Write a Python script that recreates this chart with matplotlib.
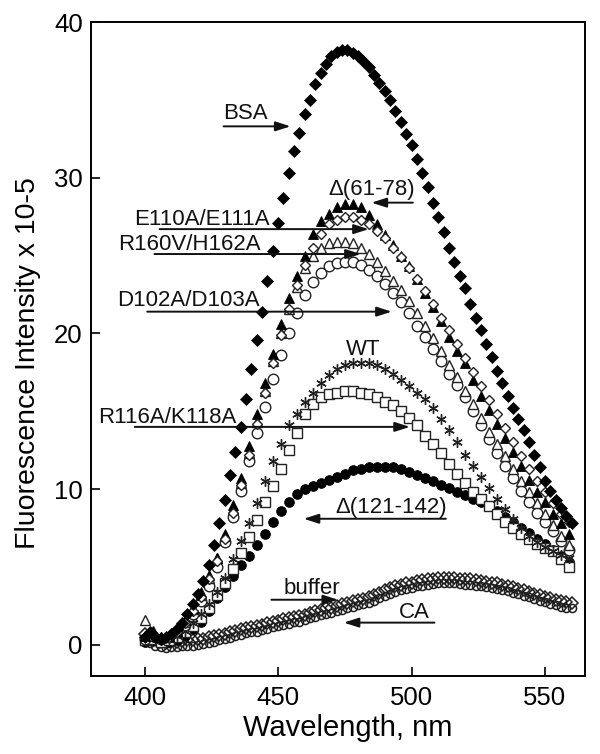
import numpy as np
import matplotlib
matplotlib.use("Agg")
import matplotlib.pyplot as plt

plt.rcParams['font.family'] = ['Liberation Sans', 'DejaVu Sans']

# wavelength grids (nm)
wl_bsa = np.arange(400, 561, 2)
wl_mut = np.arange(400, 560, 3)
wl_band = np.arange(400, 561, 2)

bsa = [0.5, 0.8, 0.5, 0.4, 0.5, 0.7, 1.0, 1.4, 2.0, 2.6,
       3.3, 4.1, 5.1, 6.4, 7.8, 9.3, 10.9, 12.4, 14.0, 15.8,
       17.7, 19.6, 21.4, 23.4, 25.3, 27.1, 28.7, 30.3, 31.7, 32.9,
       34.1, 35.0, 36.0, 36.7, 37.3, 37.8, 38.1, 38.2, 38.2, 38.0,
       37.8, 37.5, 37.1, 36.6, 36.1, 35.6, 35.0, 34.3, 33.6, 32.8,
       32.1, 31.2, 30.3, 29.4, 28.4, 27.5, 26.5, 25.5, 24.6, 23.7,
       22.9, 21.9, 21.0, 20.2, 19.3, 18.5, 17.6, 16.8, 16.0, 15.2,
       14.5, 13.8, 13.0, 12.2, 11.4, 10.5, 9.9, 9.3, 8.8, 8.3,
       7.8]

d6178 = [0.6, 0.8, 0.5, 0.6, 0.9, 1.6, 2.4, 3.4, 4.5, 5.6,
         7.1, 9.0, 10.7, 12.8, 14.8, 16.8, 18.7, 20.6, 22.3, 23.7,
         25.0, 26.4, 27.2, 27.7, 28.1, 28.3, 28.3, 28.1, 27.6, 27.0,
         26.3, 25.7, 25.0, 24.3, 23.5, 22.6, 21.7, 20.8, 19.8, 18.9,
         18.1, 17.0, 16.0, 15.1, 14.2, 13.3, 12.4, 11.5, 10.6, 9.8,
         9.2, 8.4, 7.8, 7.1]

e110 = [0.5, 0.6, 0.4, 0.5, 0.8, 1.4, 2.2, 3.1, 4.2, 5.4,
        6.8, 8.5, 10.3, 12.2, 14.2, 16.2, 18.1, 19.9, 21.6, 23.1,
        24.4, 25.5, 26.4, 27.0, 27.3, 27.5, 27.5, 27.3, 27.0, 26.6,
        26.1, 25.5, 24.9, 24.2, 23.5, 22.7, 21.9, 21.0, 20.2, 19.3,
        18.4, 17.5, 16.6, 15.7, 14.8, 13.9, 13.0, 12.1, 11.3, 10.5,
        9.8, 9.1, 8.4, 7.9]

r160 = [1.6, 0.9, 0.5, 0.6, 0.9, 1.5, 2.3, 3.2, 4.3, 5.6,
        7.0, 8.7, 10.4, 12.3, 14.3, 16.3, 18.2, 20.0, 21.6, 23.0,
        24.2, 25.0, 25.5, 25.8, 25.9, 25.9, 25.8, 25.5, 25.1, 24.6,
        24.0, 23.4, 22.8, 22.1, 21.3, 20.5, 19.7, 18.9, 18.0, 17.2,
        16.3, 15.5, 14.6, 13.7, 12.9, 12.1, 11.3, 10.5, 9.8, 9.1,
        8.4, 7.7, 7.0, 6.4]

d102 = [0.4, 0.6, 0.4, 0.5, 0.8, 1.3, 2.0, 2.8, 3.8, 5.0,
        6.6, 8.2, 9.9, 11.8, 13.6, 15.3, 17.1, 18.6, 20.0, 21.3,
        22.5, 23.3, 23.9, 24.3, 24.5, 24.6, 24.6, 24.4, 24.1, 23.7,
        23.2, 22.6, 22.0, 21.3, 20.5, 19.8, 19.0, 18.2, 17.4, 16.7,
        15.9, 15.0, 14.1, 13.2, 12.3, 11.5, 10.7, 9.9, 9.2, 8.5,
        7.9, 7.3, 6.7, 6.1]

wt = [0.4, 0.5, 0.3, 0.4, 0.6, 0.9, 1.4, 2.0, 2.6, 3.4,
      4.3, 5.5, 6.7, 7.8, 9.1, 10.5, 11.8, 12.9, 14.1, 14.8,
      15.6, 16.2, 16.8, 17.3, 17.7, 18.0, 18.1, 18.1, 18.1, 18.0,
      17.7, 17.4, 17.0, 16.6, 16.2, 15.8, 15.2, 14.5, 13.8, 13.0,
      12.2, 11.5, 10.8, 10.1, 9.4, 8.7, 8.1, 7.5, 7.0, 6.6,
      6.3, 6.0, 5.8, 5.6]

r116 = [0.3, 0.4, 0.2, 0.3, 0.5, 0.8, 1.2, 1.7, 2.4, 3.2,
        4.0, 4.9, 5.9, 6.9, 8.0, 9.2, 10.2, 11.3, 12.5, 13.6,
        14.8, 15.5, 15.9, 16.1, 16.2, 16.3, 16.3, 16.2, 16.1, 15.9,
        15.6, 15.4, 15.0, 14.6, 14.1, 13.4, 12.9, 12.3, 11.6, 11.0,
        10.4, 9.8, 9.4, 8.9, 8.4, 7.9, 7.5, 7.1, 6.8, 6.5,
        6.2, 6.0, 5.5, 5.0]

d121 = [0.2, 0.3, 0.2, 0.2, 0.3, 0.6, 1.0, 1.5, 2.2, 3.0,
        3.7, 4.4, 5.1, 5.7, 6.4, 7.1, 7.9, 8.6, 9.2, 9.7,
        10.0, 10.2, 10.4, 10.6, 10.8, 11.0, 11.2, 11.3, 11.4, 11.4,
        11.4, 11.4, 11.3, 11.1, 10.9, 10.7, 10.5, 10.3, 10.1, 9.8,
        9.6, 9.4, 9.2, 8.9, 8.6, 8.2, 7.9, 7.5, 7.2, 6.8,
        6.5, 6.1, 5.7, 5.3]

buffer = [0.7, 0.5, 0.3, 0.2, 0.15, 0.2, 0.2, 0.25, 0.3, 0.3,
          0.35, 0.4, 0.5, 0.55, 0.65, 0.7, 0.8, 0.9, 1.0, 1.1,
          1.15, 1.2, 1.3, 1.4, 1.5, 1.55, 1.65, 1.7, 1.8, 1.85,
          1.95, 2.05, 2.15, 2.25, 2.35, 2.4, 2.5, 2.6, 2.7, 2.8,
          2.9, 2.95, 3.05, 3.2, 3.35, 3.5, 3.65, 3.75, 3.85, 3.95,
          4.0, 4.1, 4.15, 4.2, 4.25, 4.3, 4.3, 4.3, 4.3, 4.25,
          4.2, 4.2, 4.15, 4.1, 4.05, 4.0, 3.95, 3.85, 3.8, 3.7,
          3.6, 3.5, 3.4, 3.3, 3.2, 3.1, 3.0, 2.9, 2.8, 2.75,
          2.7]

ca = [0.35, 0.15, -0.05, -0.15, -0.2, -0.15, -0.15, -0.1, -0.05, -0.05,
      0.0, 0.05, 0.15, 0.2, 0.3, 0.35, 0.45, 0.55, 0.65, 0.75,
      0.8, 0.85, 0.95, 1.05, 1.15, 1.2, 1.3, 1.35, 1.45, 1.5,
      1.6, 1.7, 1.8, 1.9, 2.0, 2.05, 2.15, 2.25, 2.35, 2.45,
      2.55, 2.6, 2.7, 2.85, 3.0, 3.15, 3.3, 3.4, 3.5, 3.6,
      3.65, 3.75, 3.8, 3.85, 3.9, 3.95, 3.95, 3.95, 3.95, 3.9,
      3.85, 3.85, 3.8, 3.75, 3.7, 3.65, 3.6, 3.5, 3.45, 3.35,
      3.25, 3.15, 3.05, 2.95, 2.85, 2.75, 2.65, 2.55, 2.45, 2.4,
      2.35]

xticks = [400, 450, 500, 550]
yticks = [0, 10, 20, 30, 40]

# annotations: label, text (x, y), arrow tail, arrow tip
labels = [
    ("BSA", (437.9, 33.8), (429.6, 33.3), (454.7, 33.3)),
    ("Δ(61-78)", (484.9, 28.9), (500.5, 28.4), (485.0, 28.4)),
    ("E110A/E111A", (421.6, 26.95), (405.6, 26.7), (484.0, 26.7)),
    ("R160V/H162A", (416.7, 25.35), (403.7, 25.1), (481.0, 25.1)),
    ("D102A/D103A", (416.3, 21.75), (401.0, 21.4), (492.6, 21.4)),
    ("WT", (481.9, 18.6), None, None),
    ("R116A/K118A", (408.4, 14.25), (396.3, 14.0), (499.4, 14.0)),
    ("Δ(121-142)", (492.4, 8.45), (512.9, 8.1), (459.6, 8.1)),
    ("buffer", (462.8, 3.25), (447.5, 2.9), (472.5, 2.9)),
    ("CA", (500.9, 1.75), (508.6, 1.43), (474.6, 1.43)),
]

fig = plt.figure(figsize=(6.0, 7.54), dpi=100)
ax = fig.add_axes([0.152, 0.1034, 0.823, 0.8674])

band_c = '#1e1e1e'
ax.plot(wl_band, buffer, ls='none', marker='D', ms=5.8, mfc='none', mec=band_c, mew=1.1, zorder=2)
ax.plot(wl_band, ca, ls='none', marker='o', ms=5.8, mfc='none', mec=band_c, mew=1.1, zorder=2)

ax.plot(wl_mut, d121, ls='none', marker='o', ms=7, mfc='k', mec='k', mew=0.6, zorder=3)
ax.plot(wl_mut, r116, ls='none', marker='s', ms=7, mfc='white', mec='#222', mew=1.0, zorder=3)
ax.plot(wl_mut, wt, ls='none', marker=(6, 2, 0), ms=7.5, mfc='none', mec='#222', mew=1.0, zorder=3)
ax.plot(wl_mut, d102, ls='none', marker='o', ms=7.6, mfc='white', mec='#222', mew=1.0, zorder=3)
ax.plot(wl_mut, r160, ls='none', marker='^', ms=7.6, mfc='white', mec='#222', mew=1.0, zorder=3)
ax.plot(wl_mut, d6178, ls='none', marker='^', ms=7.6, mfc='k', mec='k', mew=0.6, zorder=4)
ax.plot(wl_mut, e110, ls='none', marker='D', ms=5.4, mfc='white', mec='#222', mew=1.0, zorder=4)
ax.plot(wl_bsa, bsa, ls='none', marker='D', ms=6, mfc='k', mec='k', mew=0.5, zorder=5)

for text, (tx, ty), tail, tip in labels:
    ax.text(tx, ty, text, ha='center', va='baseline', fontsize=16, color='#111', zorder=6)
    if tail is not None:
        ax.annotate('', xy=tip, xytext=tail,
                    arrowprops=dict(arrowstyle='-|>,head_length=0.75,head_width=0.24',
                                    lw=1.4, color='#111', mutation_scale=12,
                                    shrinkA=0, shrinkB=0), zorder=6)

ax.set_xlim(380, 565)
ax.set_ylim(-2, 40)
ax.set_xticks(xticks)
ax.set_yticks(yticks)
ax.tick_params(direction='in', length=6.5, width=1.2, labelsize=18.5,
               top=False, right=False)
ax.tick_params(axis='x', pad=7)
ax.tick_params(axis='y', pad=6)
for s in ax.spines.values():
    s.set_linewidth(1.4)

ax.set_xlabel("Wavelength, nm", fontsize=21)
ax.set_ylabel("Fluorescence Intensity x 10-5", fontsize=20.5)
ax.xaxis.set_label_coords(0.52, -0.058)
ax.yaxis.set_label_coords(-0.102, 0.479)

fig.savefig("out.png", dpi=100)
